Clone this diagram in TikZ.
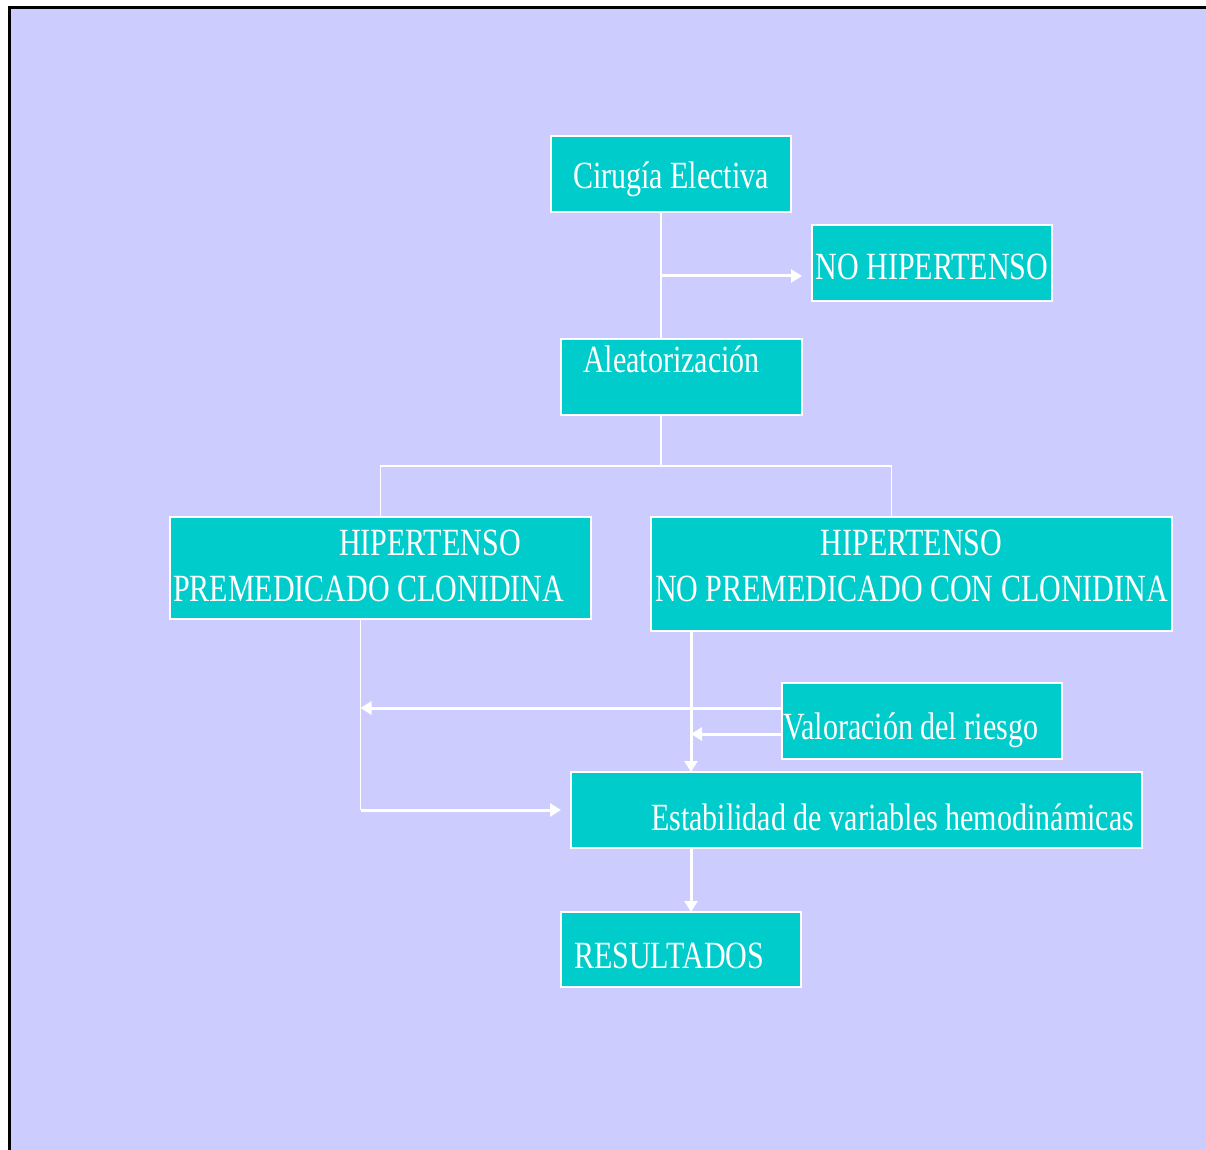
\documentclass[tikz,border=0pt]{standalone}
\usepackage{fontspec}
\usetikzlibrary{arrows.meta}
\newfontfamily\boxfont[FakeStretch=0.78]{Liberation Serif}
\newcommand\boxtype{\boxfont\fontsize{19.25pt}{23pt}\selectfont
  \spaceskip=3.75pt\relax\xspaceskip=3.75pt\relax}
\definecolor{fondo}{HTML}{CCCCFF}
\definecolor{caja}{HTML}{00CCCC}

\begin{document}
\begin{tikzpicture}[x=0.5pt, y=-0.5pt,
  box/.style = {shape=rectangle, draw=white, line width=0.75pt,
    fill=caja, text=white, anchor=north west,
    inner ysep=0pt, outer sep=0pt, font=\boxtype},
  thinlink/.style = {draw=white, line width=0.75pt},
  bigarrow/.style = {draw=white, line width=1.5pt,
    -{Triangle[length=5.5pt,width=6.5pt]}}]
  % page and frame
  \useasboundingbox (0,0) rectangle (1206,1150);
  \fill[white] (0,0) rectangle (1206,1150);
  \fill[fondo] (9,8) rectangle (1206,1150);
  \draw[black, line width=1.5pt] (9,1150) -- (9,8) -- (1206,8);

  \node[box, inner xsep=0pt, text width=120pt, align=flush center,
    text height=26.5pt, text depth=11.5pt] (cir) at (551,136) {Cirugía Electiva};
  \node[box, inner xsep=0pt, text width=120pt, align=flush center,
    text height=27.5pt, text depth=10.5pt] (nohip) at (812,225) {NO HIPERTENSO};
  \node[box, inner xsep=11pt, text width=98.5pt, align=flush left,
    text height=16.5pt, text depth=21.5pt] (alea) at (561,339) {Aleatorización};
  \node[box, inner xsep=1.5pt, text width=207.5pt, align=flush left,
    text height=19pt, text depth=32pt] (hipc) at (170,517)
    {\hspace*{83pt}HIPERTENSO\\PREMEDICADO CLONIDINA};
  \node[box, inner xsep=0pt, text width=260.5pt, align=flush center,
    text height=19pt, text depth=38pt] (hipn) at (651,517)
    {HIPERTENSO\\NO PREMEDICADO CON CLONIDINA};
  \node[box, inner xsep=0.5pt, text width=139pt, align=flush left,
    text height=28pt, text depth=10pt] (val) at (782,683) {Valoración del riesgo};
  \node[box, inner xsep=4pt, text width=277.5pt, align=flush right,
    text height=29pt, text depth=9pt] (est) at (571,772)
    {Estabilidad de variables hemodinámicas};
  \node[box, inner xsep=6.5pt, text width=107pt, align=flush left,
    text height=28pt, text depth=9.5pt] (res) at (561,912) {RESULTADOS};

  % connectors
  \coordinate (branch) at (661,276);
  \coordinate (split) at (661,466);
  \coordinate (corner) at ([xshift=-10pt]hipc.south |- est.west);
  \coordinate (drop) at ([xshift=60pt]est.north west);
  \draw[thinlink] (cir.south -| branch) -- (alea.north -| branch);
  \draw[bigarrow, shorten >=5pt] (branch) -- (branch -| nohip.west);
  \draw[thinlink] (alea.south -| split) -- (split);
  \draw[thinlink] (hipc.north) |- (split) -| ([xshift=-10pt]hipn.north);
  \draw[thinlink] ([xshift=-10pt]hipc.south) -- (corner);
  \draw[bigarrow, shorten >=5pt] (corner) -- (est.west);
  \draw[bigarrow] (drop |- hipn.south) -- (drop);
  \draw[bigarrow] ([yshift=-12.5pt]val.north west) -- ([yshift=-12.5pt]val.north west -| corner);
  \draw[bigarrow] ([yshift=-25.5pt]val.north west) -- ([yshift=-25.5pt]val.north west -| drop);
  \draw[bigarrow] (drop |- est.south) -- (drop |- res.north);
\end{tikzpicture}
\end{document}
